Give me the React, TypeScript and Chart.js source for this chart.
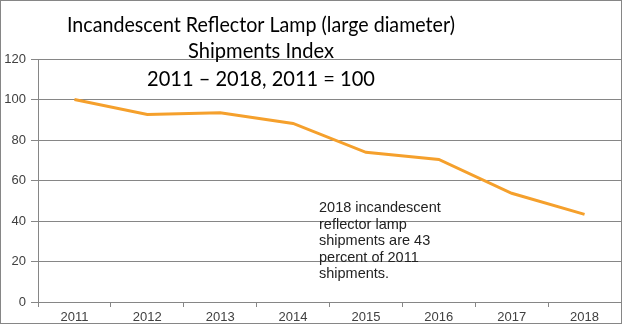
import React, { useEffect, useRef } from 'react';
import { Chart, registerables } from 'chart.js';

Chart.register(...registerables);

const categories = ['2011', '2012', '2013', '2014', '2015', '2016', '2017', '2018'];
const shipmentsIndex = [100, 92.6, 93.5, 88.2, 73.9, 70.4, 53.7, 43.3];
const yMin = 0;
const yMax = 120;
const yStep = 20;
const titleLines = [
  'Incandescent Reflector Lamp (large diameter)',
  'Shipments Index',
  '2011 – 2018, 2011 = 100',
];
const titleWidths = [388, 146, 228];
const noteLines = [
  '2018 incandescent',
  'reflector lamp',
  'shipments are 43',
  'percent of 2011',
  'shipments.',
];

const GRID = '#868686';
const LINE = '#F5A02C';

const overlayPlugin = {
  id: 'overlay',
  afterDraw(chart: any) {
    const { ctx, chartArea, width, height } = chart;
    ctx.save();
    ctx.strokeStyle = GRID;
    ctx.lineWidth = 1;
    ctx.beginPath();
    ctx.moveTo(Math.round(chartArea.right) + 0.5, chartArea.top);
    ctx.lineTo(Math.round(chartArea.right) + 0.5, chartArea.bottom);
    ctx.stroke();
    ctx.strokeRect(0.5, 0.5, width - 3, height - 3);

    ctx.fillStyle = '#000000';
    ctx.font = '22px Lato';
    ctx.textAlign = 'center';
    ctx.textBaseline = 'alphabetic';
    const titleBase = [32, 58, 86];
    titleLines.forEach((t, i) => ctx.fillText(t, 261, titleBase[i], titleWidths[i]));

    ctx.fillStyle = '#222222';
    ctx.font = '14.5px "Liberation Sans"';
    ctx.textAlign = 'left';
    noteLines.forEach((t, i) => ctx.fillText(t, 319, 212 + i * 16.5));
    ctx.restore();
  },
};

export default function App() {
  const ref = useRef<HTMLCanvasElement>(null);
  useEffect(() => {
    document.body.style.margin = '0';
    const chart = new Chart(ref.current as HTMLCanvasElement, {
      type: 'line',
      data: {
        labels: categories,
        datasets: [
          {
            data: shipmentsIndex,
            borderColor: LINE,
            backgroundColor: LINE,
            borderWidth: 3,
            pointRadius: 0,
            tension: 0,
          },
        ],
      },
      options: {
        animation: false,
        responsive: true,
        maintainAspectRatio: false,
        layout: { padding: { top: 59, right: 3, left: 0, bottom: 0 } },
        plugins: { legend: { display: false }, title: { display: false }, tooltip: { enabled: false } },
        scales: {
          x: {
            offset: true,
            afterFit: (s: any) => {
              s.height = 24;
            },
            grid: {
              offset: true,
              drawOnChartArea: false,
              drawTicks: true,
              tickLength: 5,
              color: GRID,
            },
            border: { display: true, color: GRID },
            ticks: { color: '#404040', font: { family: 'Liberation Sans', size: 13 }, padding: 3, maxRotation: 0 },
          },
          y: {
            min: yMin,
            max: yMax,
            afterFit: (s: any) => {
              s.width = 38;
            },
            ticks: { stepSize: yStep, color: '#404040', font: { family: 'Liberation Sans', size: 13 }, padding: 5 },
            grid: { color: GRID, tickLength: 7 },
            border: { display: true, color: GRID },
          },
        },
      },
      plugins: [overlayPlugin],
    });
    return () => chart.destroy();
  }, []);
  return (
    <div style={{ position: 'relative', width: 624, height: 326 }}>
      <canvas ref={ref} />
    </div>
  );
}
